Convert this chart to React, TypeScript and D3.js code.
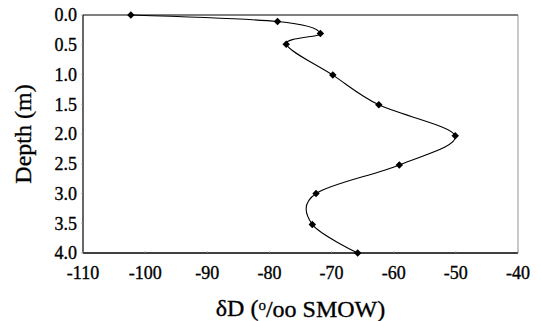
import React from "react";
import * as d3 from "d3";

// delta D values (o/oo SMOW) and depth (m)
const deltaD = [-102.3, -78.7, -71.8, -77.3, -69.8, -62.4, -50.1, -59.1, -72.5, -73.1, -65.8];
const depth = [0.0, 0.11, 0.31, 0.49, 1.01, 1.51, 2.03, 2.52, 3.0, 3.52, 4.0];
const xTicks = [-110, -100, -90, -80, -70, -60, -50, -40];
const yTicks = [0, 0.5, 1, 1.5, 2, 2.5, 3, 3.5, 4];

const W = 541;
const H = 321;
const margin = { top: 15, right: 23, bottom: 68, left: 83 };
const textStyle = { fontFamily: "Liberation Serif", stroke: "#000", strokeWidth: 0.35 };

export default function App() {
  const x = d3.scaleLinear().domain([-110, -40]).range([margin.left, W - margin.right]);
  const y = d3.scaleLinear().domain([0, 4]).range([margin.top, H - margin.bottom]);

  const points = deltaD.map((v, i) => [v, depth[i]] as [number, number]);
  const line = d3
    .line<[number, number]>()
    .x((d) => x(d[0]))
    .y((d) => y(d[1]))
    .curve(d3.curveCatmullRom.alpha(0));

  const marker = d3.symbol(d3.symbolSquare, 28)();

  const [x0, x1] = x.range();
  const [y0, y1] = y.range();

  return (
    <svg width={W} height={H} style={{ position: "absolute", left: 0, top: 0 }}>
      <rect width={W} height={H} fill="#fff" />
      {/* frame */}
      <line x1={x0} x2={x1} y1={y0} y2={y0} stroke="#000" strokeWidth={1.2} />
      <line x1={x0} x2={x0} y1={y0} y2={y1} stroke="#000" strokeWidth={1.2} />
      <line x1={x0} x2={x1} y1={y1} y2={y1} stroke="#000" strokeWidth={1.5} />
      <line x1={x1} x2={x1} y1={y0} y2={y1} stroke="#777" strokeWidth={0.8} />

      {/* y ticks */}
      {yTicks.map((t) => (
        <g key={"y" + t}>
          <line x1={x0 - 2} x2={x0} y1={y(t)} y2={y(t)} stroke="#999" strokeWidth={0.7} />
          <text x={x0 - 6} y={y(t)} dy="0.35em" textAnchor="end" fontSize={18} style={textStyle}>
            {d3.format(".1f")(t)}
          </text>
        </g>
      ))}

      {/* x ticks */}
      {xTicks.map((t) => (
        <g key={"x" + t}>
          <line x1={x(t)} x2={x(t)} y1={y1 - 2} y2={y1} stroke="#999" strokeWidth={0.7} />
          <text x={x(t)} y={y1 + 20} dy="0.35em" textAnchor="middle" fontSize={18} style={textStyle}>
            {t}
          </text>
        </g>
      ))}

      {/* profile */}
      <path d={line(points) ?? ""} fill="none" stroke="#000" strokeWidth={1.1} />
      {points.map((d, i) => (
        <path
          key={i}
          d={marker ?? ""}
          transform={`translate(${x(d[0])},${y(d[1])}) rotate(45)`}
          fill="#000"
        />
      ))}

      {/* axis titles */}
      <text
        transform={`translate(23,${(y0 + y1) / 2}) rotate(-90)`}
        dy="0.35em"
        textAnchor="middle"
        fontSize={24}
        style={textStyle}
      >
        Depth (m)
      </text>
      <text x={(x0 + x1) / 2} y={308} dy="0.35em" textAnchor="middle" fontSize={24} style={textStyle}>
        δD (<tspan fontSize={15} dy="-0.45em">o</tspan>
        <tspan dy="0.3em">/oo SMOW)</tspan>
      </text>
    </svg>
  );
}
